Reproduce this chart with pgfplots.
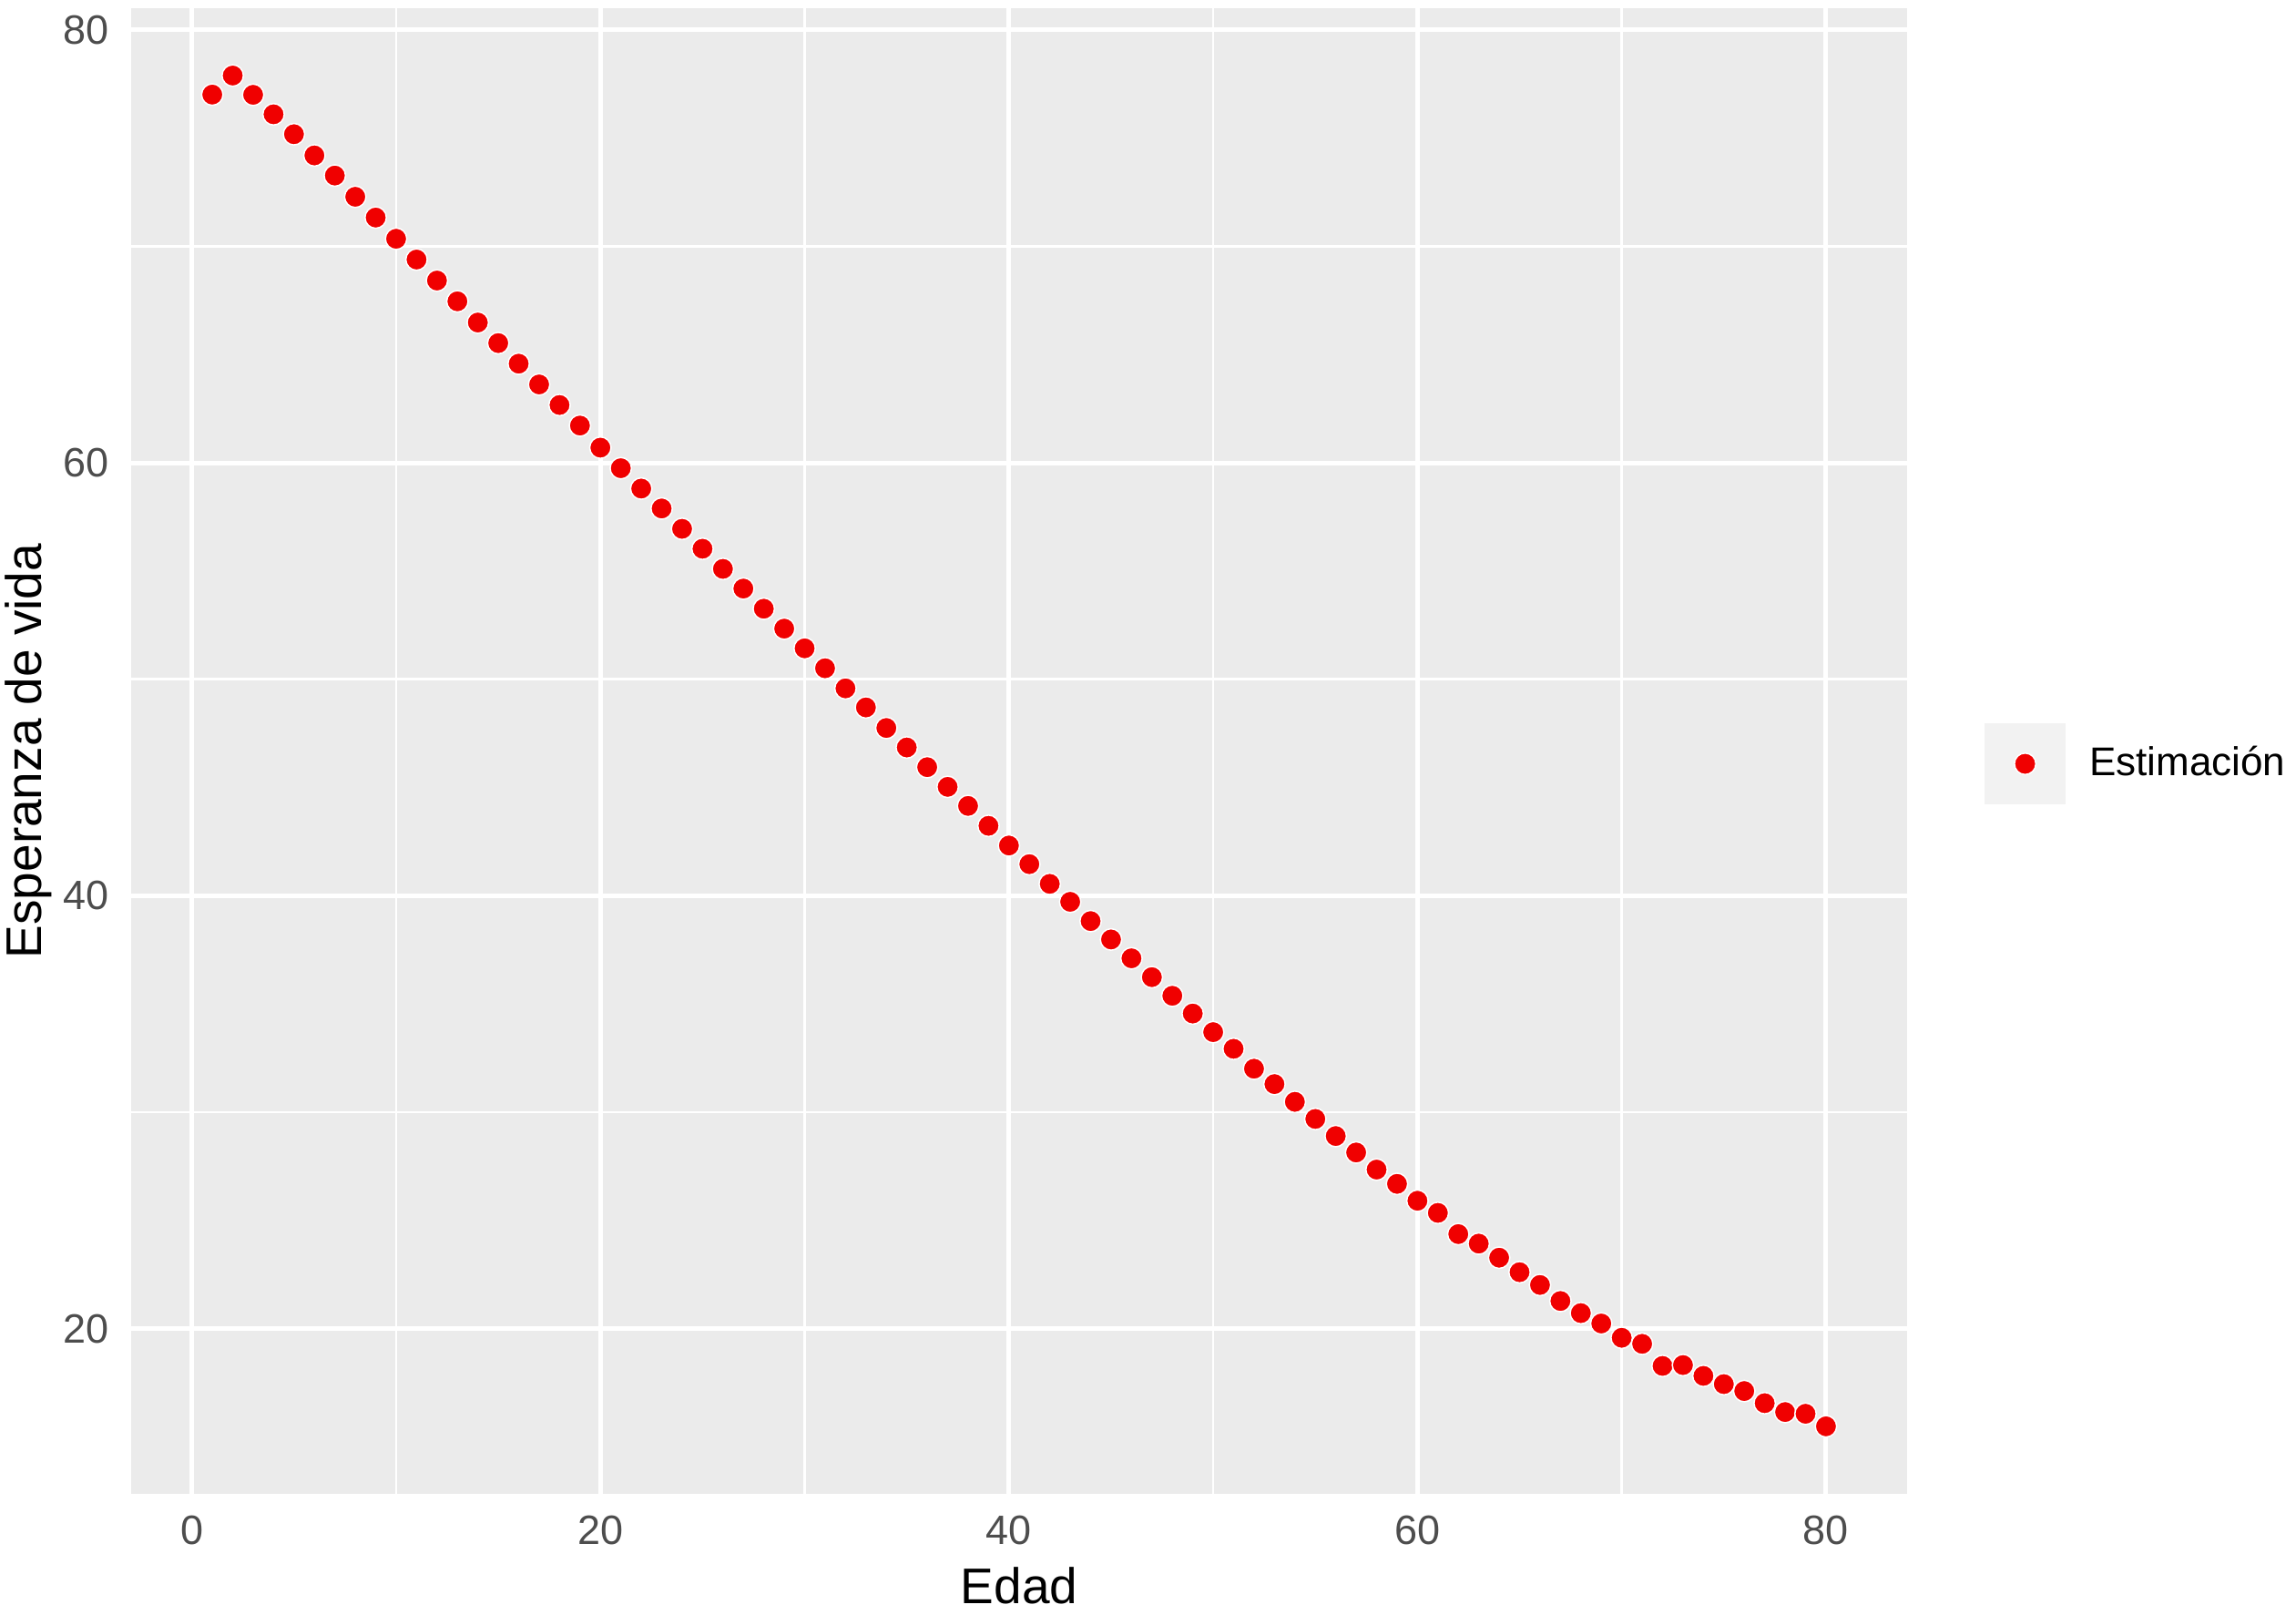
\documentclass[border=0pt]{standalone}
\usepackage{fontspec}
\setmainfont{Liberation Sans}
\usepackage{pgfplots}
\pgfplotsset{compat=1.18}
\definecolor{panelbg}{HTML}{EBEBEB}
\definecolor{keybg}{HTML}{F2F2F2}
\definecolor{ticktext}{HTML}{4D4D4D}
\definecolor{ptred}{RGB}{240,0,0}
\pgfplotstableread{
x y
1 77.01
2 77.89
3 77.00
4 76.10
5 75.18
6 74.20
7 73.27
8 72.29
9 71.33
10 70.35
11 69.39
12 68.42
13 67.46
14 66.48
15 65.53
16 64.58
17 63.62
18 62.67
19 61.72
20 60.70
21 59.75
22 58.81
23 57.89
24 56.95
25 56.03
26 55.10
27 54.19
28 53.26
29 52.34
30 51.43
31 50.51
32 49.58
33 48.70
34 47.75
35 46.85
36 45.94
37 45.03
38 44.15
39 43.23
40 42.32
41 41.46
42 40.55
43 39.72
44 38.83
45 37.98
46 37.11
47 36.24
48 35.38
49 34.56
50 33.70
51 32.93
52 32.01
53 31.30
54 30.48
55 29.69
56 28.90
57 28.14
58 27.35
59 26.69
60 25.91
61 25.35
62 24.37
63 23.93
64 23.28
65 22.61
66 22.02
67 21.28
68 20.72
69 20.24
70 19.58
71 19.30
72 18.28
73 18.32
74 17.82
75 17.44
76 17.12
77 16.56
78 16.15
79 16.07
80 15.49
}\esperanza
\begin{document}
\begin{tikzpicture}
\begin{axis}[
    scale only axis,
    width=389.8pt, height=326.2pt,
    xmin=-2.95, xmax=83.95,
    ymin=12.37, ymax=81.0,
    axis background/.style={fill=panelbg},
    axis line style={draw=none},
    xtick={0,20,40,60,80},
    ytick={20,40,60,80},
    minor xtick={10,30,50,70},
    minor ytick={30,50,70},
    major tick length=0pt, minor tick length=0pt,
    tick style={draw=none},
    grid=both,
    major grid style={white, line width=1pt},
    minor grid style={white, line width=0.5pt},
    /pgf/number format/assume math mode=true,
    xticklabel style={font=\fontsize{9}{10}\selectfont, text=ticktext, anchor=north, inner sep=0pt, yshift=-4.6pt},
    yticklabel style={font=\fontsize{9}{10}\selectfont, text=ticktext, anchor=east, inner sep=0pt, xshift=-4.8pt},
    xlabel={Edad},
    ylabel={Esperanza de vida},
    every axis x label/.style={at={(axis description cs:0.5,-0.0736)}, anchor=base, inner sep=0pt, font=\fontsize{11}{13}\selectfont},
    every axis y label/.style={at={(axis description cs:-0.0506,0.5)}, rotate=90, anchor=base, inner sep=0pt, font=\fontsize{11}{13}\selectfont},
    legend style={at={(axis description cs:1.0434,0.4914)}, anchor=west, draw=none, fill=none,
        inner sep=0pt, nodes={inner sep=0pt}, column sep=5.2pt, font=\fontsize{8.8}{10}\selectfont},
    legend image code/.code={
        \fill[keybg] (0pt,-8.7pt) rectangle (17.4pt,8.7pt);
        \draw[mark repeat=2,mark phase=2] plot coordinates {(0pt,0pt) (8.7pt,0pt) (17.4pt,0pt)};
    },
]
\addplot[only marks, mark=*, mark size=2.35pt, mark options={fill=ptred, draw=white, line width=0.3pt}] table[x=x, y=y] {\esperanza};
\addlegendentry{Estimación}
\end{axis}
\pgfresetboundingbox
\path[use as bounding box] (-28.9pt,-26.4pt) rectangle (475.3pt,328pt);
\end{tikzpicture}
\end{document}
